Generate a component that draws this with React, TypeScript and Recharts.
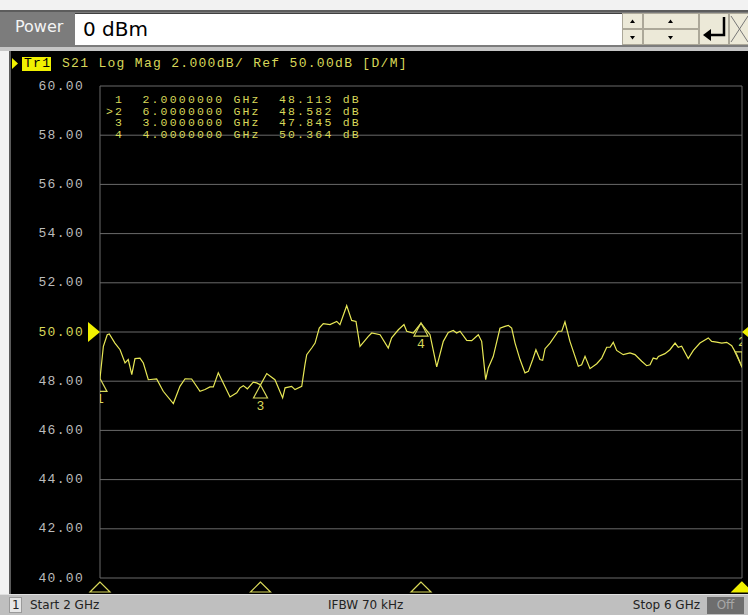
import React from 'react';
import { ComposedChart, Line, Scatter, XAxis, YAxis, CartesianGrid, ReferenceLine } from 'recharts';

// ---- data ----
const freqGHz = [
  2.000, 2.021, 2.045, 2.058, 2.093, 2.125, 2.156, 2.176, 2.198, 2.218,
  2.249, 2.270, 2.301, 2.353, 2.394, 2.457, 2.498, 2.530, 2.571, 2.623,
  2.654, 2.685, 2.706, 2.737, 2.758, 2.810, 2.852, 2.872, 2.893, 2.918,
  2.955, 2.976, 3.000, 3.039, 3.090, 3.138, 3.153, 3.194, 3.215, 3.257,
  3.277, 3.288, 3.319, 3.340, 3.366, 3.391, 3.433, 3.475, 3.495, 3.537,
  3.568, 3.595, 3.620, 3.672, 3.693, 3.745, 3.796, 3.817, 3.859, 3.894,
  3.911, 3.952, 4.000, 4.056, 4.098, 4.139, 4.170, 4.201, 4.222, 4.243,
  4.285, 4.316, 4.357, 4.378, 4.403, 4.419, 4.450, 4.492, 4.523, 4.544,
  4.565, 4.586, 4.617, 4.648, 4.669, 4.696, 4.716, 4.741, 4.758, 4.773,
  4.804, 4.855, 4.877, 4.897, 4.928, 4.980, 5.001, 5.022, 5.053, 5.095,
  5.126, 5.157, 5.178, 5.198, 5.219, 5.260, 5.302, 5.333, 5.375, 5.406,
  5.427, 5.447, 5.469, 5.479, 5.520, 5.551, 5.583, 5.603, 5.624, 5.665,
  5.697, 5.738, 5.790, 5.811, 5.842, 5.874, 5.905, 5.936, 5.967, 6.000,
];
const s21dB = [
  48.11, 49.42, 49.89, 49.92, 49.55, 49.28, 48.74, 48.88, 48.27, 48.92,
  48.94, 48.74, 48.06, 48.09, 47.59, 47.09, 47.79, 48.10, 48.09, 47.59,
  47.66, 47.77, 47.77, 48.34, 48.06, 47.36, 47.53, 47.73, 47.82, 47.69,
  47.96, 47.93, 47.85, 48.31, 48.06, 47.32, 47.73, 47.79, 47.66, 47.79,
  48.67, 49.08, 49.35, 49.55, 50.16, 50.34, 50.30, 50.43, 50.30, 51.07,
  50.47, 50.43, 49.42, 49.82, 49.96, 49.89, 49.35, 49.76, 50.09, 50.30,
  50.03, 49.96, 50.36, 49.89, 48.58, 49.62, 49.98, 50.06, 49.96, 50.03,
  49.66, 49.65, 49.89, 49.62, 48.06, 48.54, 49.00, 50.15, 50.23, 50.27,
  50.16, 49.55, 48.88, 48.34, 48.40, 48.88, 49.28, 48.88, 48.85, 49.32,
  49.55, 50.03, 50.03, 50.41, 49.62, 48.61, 48.67, 49.01, 48.51, 48.71,
  48.94, 49.38, 49.38, 49.58, 49.25, 49.08, 49.15, 49.08, 48.81, 48.63,
  48.67, 48.94, 48.90, 49.01, 49.12, 49.28, 49.55, 49.38, 49.42, 48.92,
  49.25, 49.55, 49.76, 49.62, 49.59, 49.55, 49.58, 49.44, 49.08, 48.58,
];
const gridFreqTicks = [2, 2.4, 2.8, 3.2, 3.6, 4, 4.4, 4.8, 5.2, 5.6, 6];
const dbTicks = [40, 42, 44, 46, 48, 50, 52, 54, 56, 58, 60];
const markerIds = ['1', '2', '3', '4'];
const markerFreqGHz = [2, 6, 3, 4];
const markerDb = [48.113, 48.582, 47.845, 50.364];
const activeMarker = 1;
const refLevelDb = 50;
const headerText = 'S21 Log Mag 2.000dB/ Ref 50.00dB [D/M]';
const powerLabel = 'Power';
const powerValue = '0 dBm';
const startLabel = 'Start 2 GHz';
const ifbwLabel = 'IFBW 70 kHz';
const stopLabel = 'Stop 6 GHz';

// ---- style ----
const W = 748;
const H = 615;
const MONO = '"Liberation Mono", "DejaVu Sans Mono", monospace';
const SANS = '"DejaVu Sans", "Liberation Sans", sans-serif';
const YEL = '#d8d85a';
const TRACE = '#e8e856';
const GRID = '#6a6a6a';

const YTick = (props: any) => {
  const { x, y, payload } = props;
  const v = payload.value as number;
  const isRef = v === refLevelDb;
  return (
    <text x={x - 16} y={y} textAnchor="end" dominantBaseline="central" fontFamily={MONO}
      fontSize={13} letterSpacing={1.3} fill={isRef ? YEL : '#bcbcbc'}>
      {v.toFixed(2)}
    </text>
  );
};

const makeStimShape = (active: boolean) => (props: any) => {
  const { x1, y1, y2 } = props;
  if (x1 == null || y1 == null) return <g />;
  const yb = Math.max(y1, y2);
  return (
    <polygon points={`${x1},${yb + 4} ${x1 - 10},${yb + 14} ${x1 + 10},${yb + 14}`}
      fill={active ? '#f0f000' : 'none'} stroke={active ? '#f0f000' : YEL} strokeWidth={1.2} />
  );
};

const MarkerShape = (props: any) => {
  const { cx, cy, payload } = props;
  if (cx == null || cy == null) return <g />;
  const t = { fontFamily: MONO, fontSize: 13, fill: YEL, textAnchor: 'middle' as const, dominantBaseline: 'central' as const };
  if (payload.active) {
    return (
      <g>
        <polygon points={`${cx},${cy} ${cx - 7},${cy - 15} ${cx + 7},${cy - 15}`} fill="none" stroke={YEL} strokeWidth={1.2} />
        <line x1={cx} y1={cy - 15} x2={cx} y2={cy - 3} stroke={YEL} strokeWidth={1} />
        <text x={cx} y={cy - 24} {...t}>{payload.id}</text>
      </g>
    );
  }
  return (
    <g>
      <polygon points={`${cx},${cy} ${cx - 7},${cy + 13} ${cx + 7},${cy + 13}`} fill="none" stroke={YEL} strokeWidth={1.2} />
      <text x={cx} y={cy + 21} {...t}>{payload.id}</text>
    </g>
  );
};

const RefShape = (props: any) => {
  const { x1, y1, x2 } = props;
  if (x1 == null || y1 == null) return <g />;
  const xl = Math.min(x1, x2);
  const xr = Math.max(x1, x2);
  return (
    <g>
      <polygon points={`${xl - 12},${y1 - 10} ${xl},${y1} ${xl - 12},${y1 + 10}`} fill="#f0f000" />
      <polygon points={`${xr + 12},${y1 - 10} ${xr},${y1} ${xr + 12},${y1 + 10}`} fill="#f0f000" />
    </g>
  );
};

const abs = (s: React.CSSProperties): React.CSSProperties => ({ position: 'absolute', ...s });

export default function App() {
  const traceData = freqGHz.map((f, i) => ({ f, db: s21dB[i] }));
  const markerData = markerIds.map((id, i) => ({ f: markerFreqGHz[i], db: markerDb[i], id, active: i === activeMarker }));
  const tableRows = markerIds.map((id, i) =>
    `${(i === activeMarker ? '>' + id : id).padStart(2)}  ${markerFreqGHz[i].toFixed(7)} GHz  ${markerDb[i].toFixed(3)} dB`
  );
  return (
    <div style={abs({ left: 0, top: 0, width: W, height: H, background: '#f2f2f2', overflow: 'hidden' })}>
      {/* entry bar */}
      <div style={abs({ left: 0, top: 10, width: W, height: 37, background: '#7c7c7c', borderTop: '2px solid #5c5c5c', boxSizing: 'border-box' })} />
      <div style={abs({ left: 15, top: 17, fontFamily: SANS, fontSize: 16, color: '#f4f4f4' })}>{powerLabel}</div>
      <div style={abs({ left: 75, top: 13, width: 547, height: 32, background: '#ffffff', borderTop: '1px solid #404040', boxSizing: 'border-box' })} />
      <div style={abs({ left: 83, top: 14, fontFamily: SANS, fontSize: 20, color: '#000', lineHeight: '30px' })}>{powerValue}</div>
      <svg style={abs({ left: 0, top: 0 })} width={W} height={50}>
        <g fill="#ece9d8" stroke="#aca899" strokeWidth={1}>
          <rect x={622.5} y={13.5} width={20} height={15} />
          <rect x={622.5} y={29.5} width={20} height={15} />
          <rect x={643.5} y={13.5} width={55} height={15} />
          <rect x={643.5} y={29.5} width={55} height={15} />
          <rect x={699.5} y={13.5} width={29} height={31} />
          <rect x={729.5} y={13.5} width={20} height={31} />
        </g>
        <g fill="#000">
          <polygon points="630,23 635,23 632.5,19.5" />
          <polygon points="630,36 635,36 632.5,39.5" />
          <polygon points="668,23 673,23 670.5,19.5" />
          <polygon points="668,36 673,36 670.5,39.5" />
          <polygon points="703,35 711,29 711,41" />
        </g>
        <path d="M724 17 V35 H710" fill="none" stroke="#000" strokeWidth={2.5} />
        <path d="M731 16 L748 42 M748 16 L731 42" stroke="#777" strokeWidth={1} />
      </svg>
      <div style={abs({ left: 0, top: 47, width: W, height: 4, background: '#c6c6c6' })} />
      {/* black screen */}
      <div style={abs({ left: 9, top: 51, width: W - 9, height: 543, background: '#000', borderLeft: '2px solid #5a5a5a', boxSizing: 'border-box' })} />
      <div style={abs({ left: 0, top: 0 })}>
        <ComposedChart width={W} height={H} margin={{ top: 86, right: 6, bottom: 37, left: 0 }}>
          <CartesianGrid stroke={GRID} strokeWidth={1} fill="none" />
          <XAxis dataKey="f" type="number" domain={[2, 6]} ticks={gridFreqTicks} interval={0}
            allowDataOverflow height={0} tick={false} tickLine={false} axisLine={false} />
          <YAxis type="number" domain={[40, 60]} ticks={dbTicks} interval={0} allowDataOverflow width={100}
            tick={<YTick />} tickSize={0} tickMargin={0} tickLine={false} axisLine={false} />
          <ReferenceLine y={refLevelDb} stroke="none" shape={<RefShape />} />
          {markerFreqGHz.map((f, i) => (
            <ReferenceLine key={`stim-${i}`} x={f} stroke="none" shape={makeStimShape(i === activeMarker)} />
          ))}
          <Line data={traceData} dataKey="db" stroke={TRACE} strokeWidth={1.2} dot={false}
            isAnimationActive={false} type="linear" />
          <Scatter data={markerData} dataKey="db" shape={<MarkerShape />} isAnimationActive={false} />
        </ComposedChart>
      </div>
      {/* header */}
      <svg style={abs({ left: 0, top: 51 })} width={60} height={24}>
        <polygon points="12,7 18,12.5 12,18" fill="#f0f000" />
        <rect x={22} y={6} width={29} height={14} fill="#f0f000" />
      </svg>
      <div style={abs({ left: 24, top: 57, fontFamily: MONO, fontSize: 13, letterSpacing: 1.3, color: '#000', lineHeight: '14px' })}>Tr1</div>
      <div style={abs({ left: 62, top: 57, fontFamily: MONO, fontSize: 13, letterSpacing: 1.3, color: YEL, lineHeight: '14px', whiteSpace: 'pre' })}>{headerText}</div>
      {/* marker table */}
      <div style={abs({ left: 106, top: 94, fontFamily: MONO, fontSize: 11.5, letterSpacing: 2.2, color: YEL, lineHeight: '11.6px', whiteSpace: 'pre' })}>
        {tableRows.map((r, i) => <div key={i} style={{ height: 11.6 }}>{r}</div>)}
      </div>
      {/* status bar */}
      <div style={abs({ left: 0, top: 594, width: W, height: 21, background: '#bfbfbf', borderTop: '1px solid #e0e0e0', boxSizing: 'border-box' })} />
      <div style={abs({ left: 9, top: 597, width: 13, height: 16, background: '#e6e6e6', border: '1px solid #9a9a9a', boxSizing: 'border-box' })} />
      <div style={abs({ left: 12, top: 597, fontFamily: SANS, fontSize: 12, color: '#222', lineHeight: '16px' })}>1</div>
      <div style={abs({ left: 30, top: 597, fontFamily: SANS, fontSize: 12, color: '#222', lineHeight: '16px' })}>{startLabel}</div>
      <div style={abs({ left: 328, top: 597, fontFamily: SANS, fontSize: 12, color: '#222', lineHeight: '16px' })}>{ifbwLabel}</div>
      <div style={abs({ left: 600, width: 100, textAlign: 'right', top: 597, fontFamily: SANS, fontSize: 12, color: '#222', lineHeight: '16px' })}>{stopLabel}</div>
      <div style={abs({ left: 707, top: 597, width: 37, height: 17, background: '#6e6e6e', color: '#a8a8a8', fontFamily: SANS, fontSize: 12, lineHeight: '17px', textAlign: 'center' })}>Off</div>
    </div>
  );
}
